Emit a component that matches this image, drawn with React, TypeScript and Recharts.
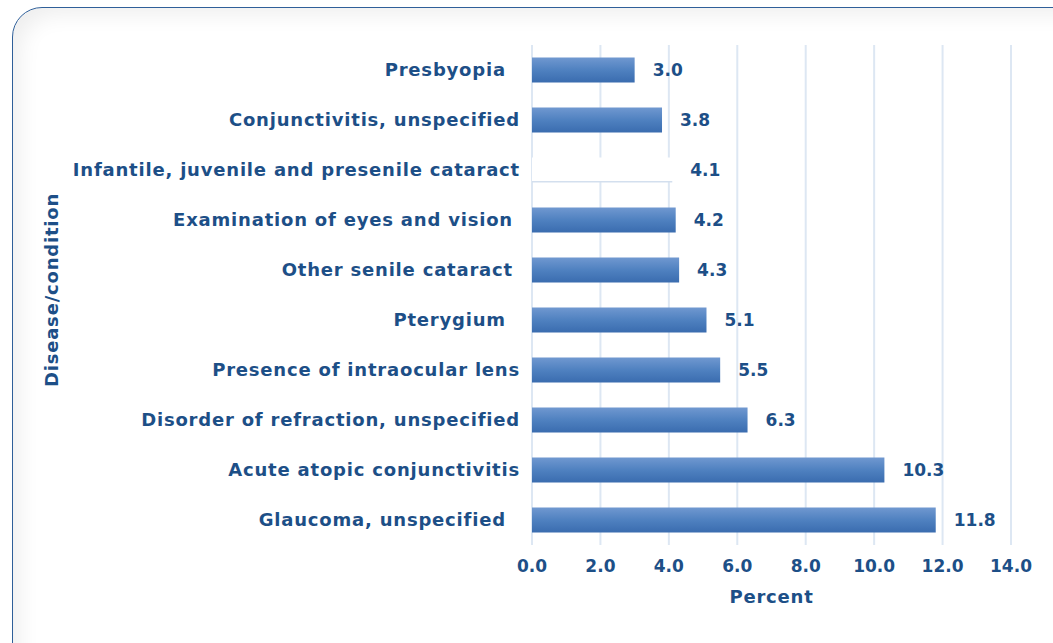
import React from 'react';
import { BarChart, Bar, XAxis, YAxis, CartesianGrid, Cell, LabelList } from 'recharts';

const categories = [
  'Presbyopia  ',
  'Conjunctivitis, unspecified',
  'Infantile, juvenile and presenile cataract',
  'Examination of eyes and vision ',
  'Other senile cataract ',
  'Pterygium  ',
  'Presence of intraocular lens',
  'Disorder of refraction, unspecified',
  'Acute atopic conjunctivitis',
  'Glaucoma, unspecified  ',
];
const percents = [3.0, 3.8, 4.1, 4.2, 4.3, 5.1, 5.5, 6.3, 10.3, 11.8];
const xTicks = [0, 2, 4, 6, 8, 10, 12, 14];
const whiteBarIndex = 2;

const data = categories.map((c, i) => ({ name: c, value: percents[i] }));

const TEXT = '#1d4f87';
const FONT = '"DejaVu Sans", "Open Sans", sans-serif';
const FS = 17;
const LFS = 18;
const LS = 0.8;

const YTick = (props: any) => {
  const { x, y, payload } = props;
  return (
    <text
      x={x}
      y={y}
      dy="0.36em"
      textAnchor="end"
      fill={TEXT}
      fontSize={LFS}
      fontWeight={700}
      fontFamily={FONT}
      letterSpacing={LS}
      style={{ whiteSpace: 'pre' }}
    >
      {payload.value}
    </text>
  );
};

const YLabel = (props: any) => {
  const { viewBox } = props;
  const cx = viewBox.x + 31;
  const cy = viewBox.y + viewBox.height / 2 - 5;
  return (
    <text
      x={cx}
      y={cy}
      transform={`rotate(-90 ${cx} ${cy})`}
      textAnchor="middle"
      dominantBaseline="central"
      fill={TEXT}
      fontSize={LFS}
      fontWeight={700}
      fontFamily={FONT}
      letterSpacing={LS}
    >
      Disease/condition
    </text>
  );
};

export default function App() {
  return (
    <div
      style={{
        position: 'absolute',
        left: 0,
        top: 0,
        width: 1053,
        height: 643,
        overflow: 'hidden',
        background: '#ffffff',
      }}
    >
      <div
        style={{
          position: 'absolute',
          left: 12,
          top: 7,
          width: 1120,
          height: 720,
          border: '1.5px solid #2f5f99',
          borderRadius: 30,
          boxShadow: 'inset 14px 14px 22px -8px rgba(0,0,0,0.07)',
          boxSizing: 'border-box',
        }}
      />
      <div style={{ position: 'absolute', left: 0, top: 0 }}>
        <BarChart
          width={1053}
          height={643}
          data={data}
          layout="vertical"
          margin={{ top: 45, right: 42, bottom: 38, left: 20 }}
          barCategoryGap="25%"
        >
          <defs>
            <linearGradient id="barGrad" x1="0" y1="0" x2="0" y2="1">
              <stop offset="0%" stopColor="#7098d0" />
              <stop offset="50%" stopColor="#4f81c0" />
              <stop offset="100%" stopColor="#3a6caf" />
            </linearGradient>
            <linearGradient id="whiteGrad" x1="0" y1="0" x2="0" y2="1">
              <stop offset="0%" stopColor="#ffffff" />
              <stop offset="94%" stopColor="#ffffff" />
              <stop offset="95%" stopColor="#d3dfee" />
              <stop offset="100%" stopColor="#d3dfee" />
            </linearGradient>
          </defs>
          <CartesianGrid horizontal={false} stroke="#dde7f3" strokeWidth={2} />
          <XAxis
            type="number"
            domain={[0, 14]}
            ticks={xTicks}
            tickFormatter={(v: number) => v.toFixed(1)}
            axisLine={false}
            tickLine={false}
            tickSize={0}
            tickMargin={15}
            height={60}
            tick={{ fill: TEXT, fontSize: FS, fontWeight: 700, fontFamily: FONT }}
            label={{
              value: 'Percent',
              position: 'insideBottom',
              offset: 2,
              fill: TEXT,
              fontSize: LFS,
              fontWeight: 700,
              fontFamily: FONT,
              letterSpacing: LS,
            }}
          />
          <YAxis
            type="category"
            dataKey="name"
            width={512}
            axisLine={false}
            tickLine={false}
            tickSize={0}
            tickMargin={12}
            interval={0}
            tick={<YTick />}
            label={<YLabel />}
          />
          <Bar dataKey="value" fill="url(#barGrad)" isAnimationActive={false}>
            {data.map((d, i) => (
              <Cell key={i} fill={i === whiteBarIndex ? 'url(#whiteGrad)' : 'url(#barGrad)'} />
            ))}
            <LabelList
              dataKey="value"
              position="right"
              offset={18}
              formatter={(v: any) => Number(v).toFixed(1)}
              fill={TEXT}
              fontSize={FS}
              fontWeight={700}
              fontFamily={FONT}
            />
          </Bar>
        </BarChart>
      </div>
    </div>
  );
}
